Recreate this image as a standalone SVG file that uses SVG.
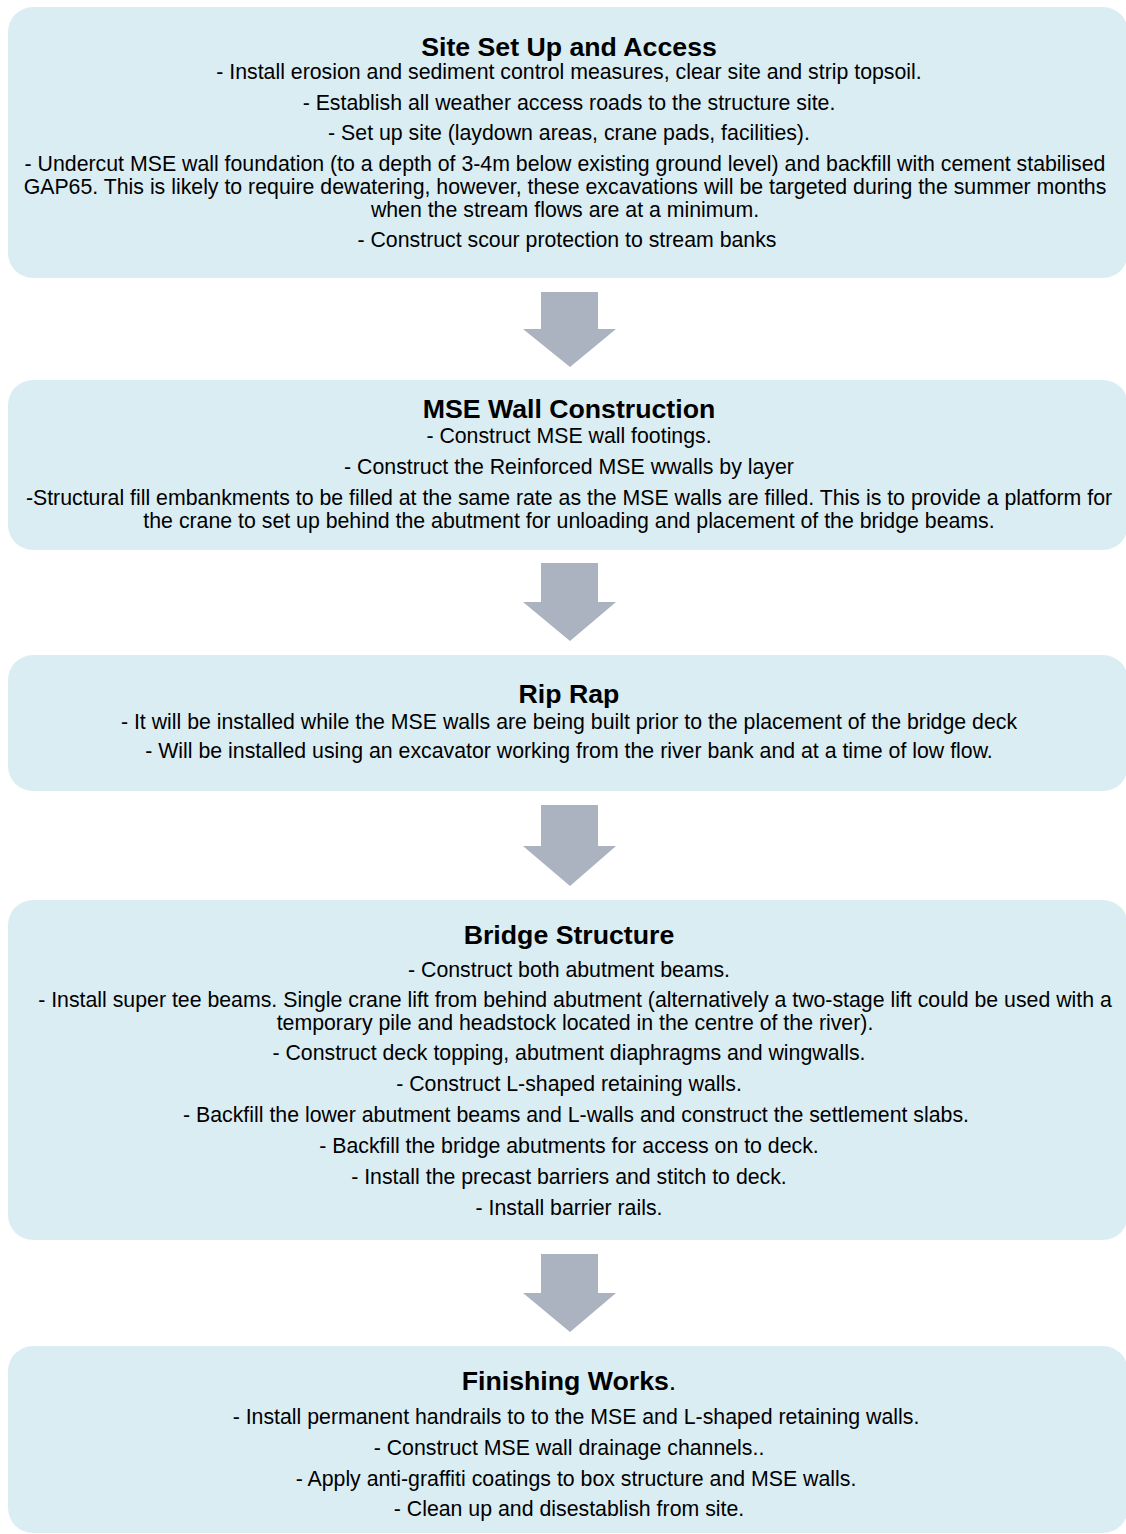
<svg xmlns="http://www.w3.org/2000/svg" width="1126" height="1534" viewBox="0 0 1126 1534">
<style>
.box{fill:#DAEDF3}
.arr{fill:#ABB2C0}
text{font-family:"Liberation Sans",Arial,sans-serif;fill:#000;text-anchor:middle}
.t{font-size:26.7px;font-weight:bold}
.b{font-size:21.3px}
</style>
<rect width="1126" height="1534" fill="#fff"/>
<g id="connectors">
<path class="arr" d="M541,292 H598 V329 H616 L570,367 L523,329 H541 Z"/>
<path class="arr" d="M541,563 H598 V602 H616 L570,641 L523,602 H541 Z"/>
<path class="arr" d="M541,805 H598 V846 H616 L570,886 L523,846 H541 Z"/>
<path class="arr" d="M541,1254 H598 V1293 H616 L570,1332 L523,1293 H541 Z"/>
</g>
<g id="n1">
<rect class="box" x="8" y="7" width="1120" height="271" rx="25"/>
<text class="t" x="569" y="56">Site Set Up and Access</text>
<text class="b" x="569" y="79">- Install erosion and sediment control measures, clear site and strip topsoil.</text>
<text class="b" x="569" y="110">- Establish all weather access roads to the structure site.</text>
<text class="b" x="569" y="140">-  Set up site (laydown areas, crane pads, facilities).</text>
<text class="b" x="565" y="171">- Undercut MSE wall foundation (to a depth of 3-4m below existing ground level) and backfill with cement stabilised</text>
<text class="b" x="565" y="194">GAP65. This is likely to require dewatering, however, these excavations will be targeted during the summer months</text>
<text class="b" x="565" y="217">when the stream flows are at a minimum.</text>
<text class="b" x="567" y="247">- Construct scour protection to stream banks</text>
</g>
<g id="n2">
<rect class="box" x="8" y="380" width="1120" height="170" rx="25"/>
<text class="t" x="569" y="418">MSE Wall Construction</text>
<text class="b" x="569" y="443">- Construct MSE wall footings.</text>
<text class="b" x="569" y="474">- Construct the Reinforced MSE wwalls by layer</text>
<text class="b" x="569" y="505">-Structural fill embankments to be filled at the same rate as the MSE walls are filled. This is to provide a platform for</text>
<text class="b" x="569" y="528">the crane to set up behind the abutment for unloading and placement of the bridge beams.</text>
</g>
<g id="n3">
<rect class="box" x="8" y="655" width="1120" height="136" rx="25"/>
<text class="t" x="569" y="703">Rip Rap</text>
<text class="b" x="569" y="729">- It will be installed while the MSE walls are being built prior to the placement of the bridge deck</text>
<text class="b" x="569" y="758">- Will be installed using an excavator working from the river bank and at a time of low flow.</text>
</g>
<g id="n4">
<rect class="box" x="8" y="900" width="1120" height="340" rx="25"/>
<text class="t" x="569" y="944">Bridge Structure</text>
<text class="b" x="569" y="977">- Construct both abutment beams.</text>
<text class="b" x="575" y="1007">- Install super tee beams. Single crane lift from behind abutment (alternatively a two-stage lift could be used with a</text>
<text class="b" x="575" y="1030">temporary pile and headstock located in the centre of the river).</text>
<text class="b" x="569" y="1060">- Construct deck topping, abutment diaphragms and wingwalls.</text>
<text class="b" x="569" y="1091">- Construct L-shaped retaining walls.</text>
<text class="b" x="576" y="1122">- Backfill the lower abutment beams and L-walls and construct the settlement slabs.</text>
<text class="b" x="569" y="1153">- Backfill the bridge abutments for access on to deck.</text>
<text class="b" x="569" y="1184">- Install the precast barriers and stitch to deck.</text>
<text class="b" x="569" y="1215">- Install barrier rails.</text>
</g>
<g id="n5">
<rect class="box" x="8" y="1346" width="1120" height="187" rx="25"/>
<text class="t" x="569" y="1390">Finishing Works<tspan style="font-weight:normal">.</tspan></text>
<text class="b" x="576" y="1424">- Install permanent handrails to to the MSE and L-shaped retaining walls.</text>
<text class="b" x="569" y="1455">- Construct MSE wall drainage channels..</text>
<text class="b" x="576" y="1486">- Apply anti-graffiti coatings to box structure and MSE walls.</text>
<text class="b" x="569" y="1516">- Clean up and disestablish from site.</text>
</g>
</svg>
